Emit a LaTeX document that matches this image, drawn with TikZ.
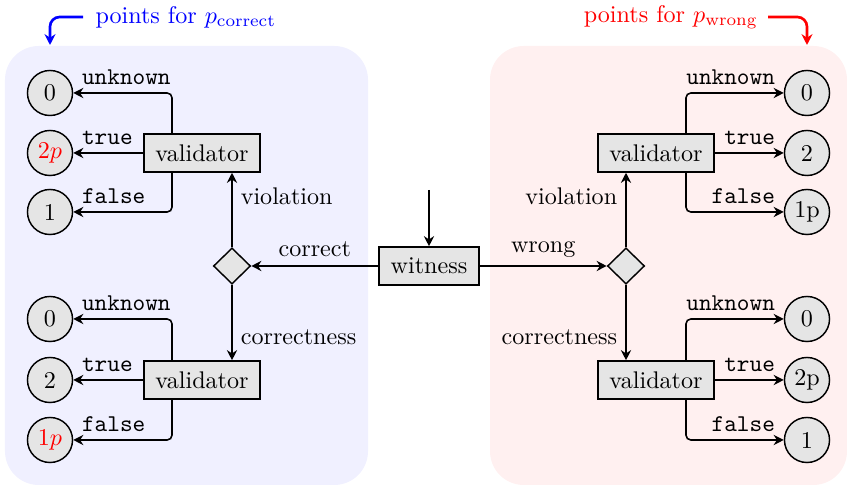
\documentclass[tikz,border=0pt]{standalone}
\usetikzlibrary{shapes.geometric,arrows.meta}
\begin{document}
\begin{tikzpicture}[x=0.415pt,y=-0.415pt,
  tip/.style={-{Stealth[length=4.2pt,width=4.2pt,inset=1.4pt]}},
  conn/.style={line width=0.65pt,tip},
  box/.style={draw,semithick,fill=black!10,rectangle,minimum width=48.1pt,minimum height=15.8pt,inner sep=0pt},
  wbox/.style={box,minimum width=41.5pt},
  pt/.style={draw,semithick,fill=black!10,circle,minimum size=18.7pt,inner sep=0pt},
  dec/.style={draw,semithick,fill=black!10,diamond,minimum width=15.4pt,minimum height=15pt,inner sep=0pt},
  branch/.style={conn,rounded corners=2pt},
  note/.style={line width=1.1pt,-{Stealth[length=4.5pt,width=4.5pt,inset=1.5pt]},rounded corners=4pt}]
\useasboundingbox (0,0) rectangle (847,486);
% backgrounds
\fill[blue!6, rounded corners=14pt] (5,46) rectangle (368,485);
\fill[red!6, rounded corners=14pt] (490,46) rectangle (847,485);
% nodes
\node[wbox] (W) at (429,266) {witness};
\node[dec] (LD) at (232,266) {};
\node[dec] (RD) at (626,266) {};
\node[box] (LV1) at (202,153) {validator};
\node[box] (LV2) at (202,380) {validator};
\node[box] (RV1) at (656,153) {validator};
\node[box] (RV2) at (656,380) {validator};
\node[pt] (L1a) at (50,93) {0};
\node[pt] (L1b) at (50,153) {\color{red}$2p$};
\node[pt] (L1c) at (50,212) {1};
\node[pt] (L2a) at (50,319) {0};
\node[pt] (L2b) at (50,380) {2};
\node[pt] (L2c) at (50,440) {\color{red}$1p$};
\node[pt] (R1a) at (807,93) {0};
\node[pt] (R1b) at (807,153) {2};
\node[pt] (R1c) at (807,212) {1p};
\node[pt] (R2a) at (807,319) {0};
\node[pt] (R2b) at (807,380) {2p};
\node[pt] (R2c) at (807,440) {1};
% witness connectors
\coordinate (Win) at (429,190);
\draw[conn] (Win) -- (W);
\draw[conn] (W) -- node[above]{correct} (LD);
\draw[conn] (W) -- node[above]{wrong} (RD);
\draw[conn] (LD) -- node[right,pos=0.68]{violation} (LD |- LV1.south);
\draw[conn] (LD) -- node[right,pos=0.7]{correctness} (LD |- LV2.north);
\draw[conn] (RD) -- node[left,pos=0.68]{violation} (RD |- RV1.south);
\draw[conn] (RD) -- node[left,pos=0.7]{correctness} (RD |- RV2.north);
% left branches
\draw[branch] ([xshift=-12.45pt]LV1.north) |- node[above right,pos=1]{\texttt{unknown}} (L1a);
\draw[conn] (LV1) -- node[above right,pos=1]{\texttt{true}} (L1b);
\draw[branch] ([xshift=-12.45pt]LV1.south) |- node[above right,pos=1]{\texttt{false}} (L1c);
\draw[branch] ([xshift=-12.45pt]LV2.north) |- node[above right,pos=1]{\texttt{unknown}} (L2a);
\draw[conn] (LV2) -- node[above right,pos=1]{\texttt{true}} (L2b);
\draw[branch] ([xshift=-12.45pt]LV2.south) |- node[above right,pos=1]{\texttt{false}} (L2c);
% right branches
\draw[branch] ([xshift=12.45pt]RV1.north) |- node[above left,pos=1]{\texttt{unknown}} (R1a);
\draw[conn] (RV1) -- node[above left,pos=1]{\texttt{true}} (R1b);
\draw[branch] ([xshift=12.45pt]RV1.south) |- node[above left,pos=1]{\texttt{false}} (R1c);
\draw[branch] ([xshift=12.45pt]RV2.north) |- node[above left,pos=1]{\texttt{unknown}} (R2a);
\draw[conn] (RV2) -- node[above left,pos=1]{\texttt{true}} (R2b);
\draw[branch] ([xshift=12.45pt]RV2.south) |- node[above left,pos=1]{\texttt{false}} (R2c);
% annotations
\node[blue, anchor=west, inner xsep=5pt] (PC) at (83,17) {points for $p_{\mathrm{correct}}$};
\node[red, anchor=east, inner xsep=4pt] (PW) at (768,17) {points for $p_{\mathrm{wrong}}$};
\coordinate (PCt) at (50,45);
\coordinate (PWt) at (807,45);
\draw[note, blue] (PC.west) -| (PCt);
\draw[note, red] (PW.east) -| (PWt);
\end{tikzpicture}
\end{document}
